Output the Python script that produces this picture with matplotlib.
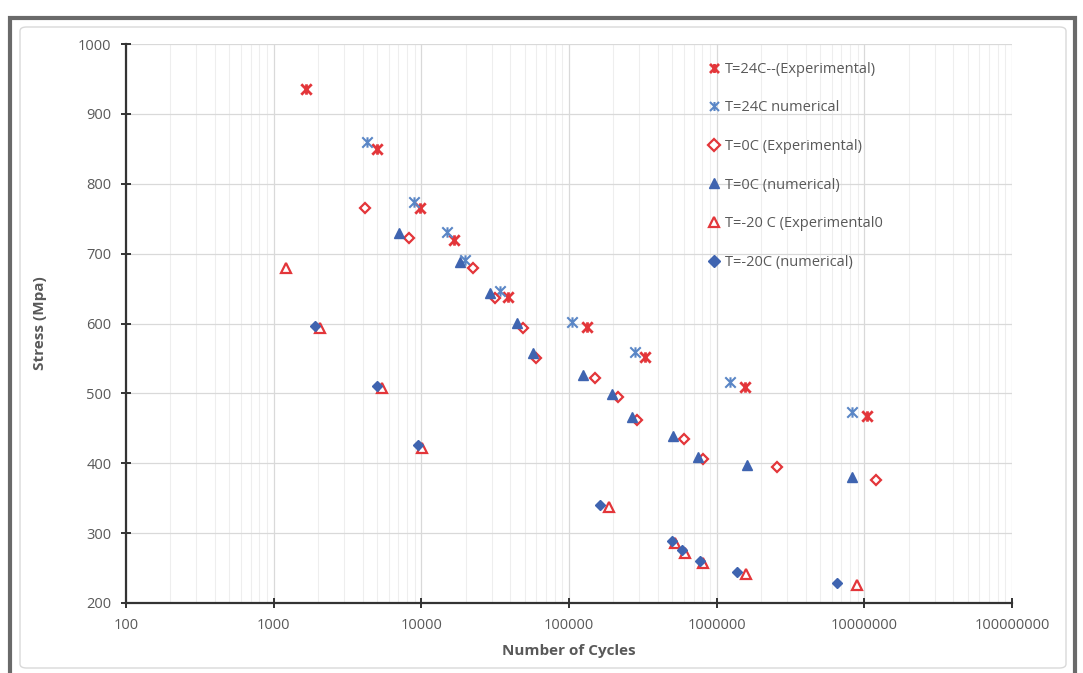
"""
S-N curves at three temperatures, experimental vs numerical
"""

import numpy as np
import matplotlib
matplotlib.use("Agg")
import matplotlib.pyplot as plt
from matplotlib.path import Path
from matplotlib.patches import Rectangle, FancyBboxPatch
from matplotlib.ticker import FixedLocator, FuncFormatter, LogLocator, NullFormatter

plt.rcParams['font.family'] = ['Open Sans', 'DejaVu Sans']

# T = 24C
cycles_24_exp = [1650, 5000, 9800, 16600, 38500, 132000, 327000, 1550000, 10400000]
stress_24_exp = [935, 850, 765, 720, 638, 595, 552, 509, 467]
cycles_24_num = [4290, 8900, 14900, 19700, 34000, 104000, 279000, 1230000, 8200000]
stress_24_num = [860, 774, 731, 691, 647, 602, 559, 516, 473]

# T = 0C
cycles_0_exp = [4150, 8250, 22300, 31400, 48700, 59700, 150000, 214000, 288000,
                600000, 807000, 2560000, 12000000]
stress_0_exp = [765, 722, 680, 637, 594, 551, 522, 495, 462, 435, 406, 395, 376]
cycles_0_num = [7050, 18200, 29100, 44400, 57000, 124000, 195000, 267000,
                505000, 746000, 1600000, 8200000]
stress_0_num = [730, 688, 644, 601, 558, 526, 499, 466, 439, 409, 398, 380]

# T = -20C
cycles_m20_exp = [1210, 2060, 5400, 10100, 186000, 521000, 609000, 807000, 1580000, 8900000]
stress_m20_exp = [680, 593, 508, 422, 338, 286, 272, 257, 242, 226]
cycles_m20_num = [1900, 5000, 9500, 162000, 498000, 581000, 770000, 1370000, 6500000]
stress_m20_num = [596, 511, 426, 340, 289, 276, 260, 245, 229]

red = '#e3363a'
blue = '#3f64b0'
blue_x = '#5a86c6'
grey_text = '#595959'

# excel style "star": an x with a vertical bar through it
star = Path([(-1, -1), (1, 1), (-1, 1), (1, -1), (0, -1), (0, 1)],
            [Path.MOVETO, Path.LINETO, Path.MOVETO, Path.LINETO, Path.MOVETO, Path.LINETO])

fig = plt.figure(figsize=(10.83, 6.73), dpi=100)
ax = fig.add_axes([126 / 1083, 1 - 603 / 673, (1012 - 126) / 1083, (603 - 44) / 673])

ax.plot(cycles_24_exp, stress_24_exp, ls='none', marker=star, ms=7.5, mfc='none',
        mec=red, mew=2.0, label='T=24C--(Experimental)', zorder=3)
ax.plot(cycles_24_num, stress_24_num, ls='none', marker=star, ms=7.5, mfc='none',
        mec=blue_x, mew=1.5, label='T=24C numerical', zorder=3)
ax.plot(cycles_0_exp, stress_0_exp, ls='none', marker='D', ms=5.5, mfc='white',
        mec=red, mew=1.6, label='T=0C (Experimental)', zorder=3)
ax.plot(cycles_0_num, stress_0_num, ls='none', marker='^', ms=7.5, mfc=blue,
        mec=blue, mew=1, label='T=0C (numerical)', zorder=3)
ax.plot(cycles_m20_exp, stress_m20_exp, ls='none', marker='^', ms=7.5, mfc='white',
        mec=red, mew=1.6, label='T=-20 C (Experimental0', zorder=3)
ax.plot(cycles_m20_num, stress_m20_num, ls='none', marker='D', ms=5.5, mfc=blue,
        mec=blue, mew=1, label='T=-20C (numerical)', zorder=3)

ax.set_xscale('log')
ax.set_xlim(100, 1e8)
ax.set_ylim(200, 1000)

ax.xaxis.set_major_locator(FixedLocator([10 ** k for k in range(2, 9)]))
ax.xaxis.set_major_formatter(FuncFormatter(lambda v, p: '%d' % round(v)))
ax.xaxis.set_minor_locator(LogLocator(base=10, subs=np.arange(2, 10)))
ax.xaxis.set_minor_formatter(NullFormatter())
ax.yaxis.set_major_locator(FixedLocator(np.arange(200, 1001, 100)))

ax.grid(which='major', axis='y', color='#d9d9d9', lw=0.9)
ax.grid(which='major', axis='x', color='#d9d9d9', lw=0.9)
ax.grid(which='minor', axis='x', color='#eeeeee', lw=0.8)
ax.set_axisbelow(True)

for s in ['top', 'right']:
    ax.spines[s].set_visible(False)
for s in ['left', 'bottom']:
    ax.spines[s].set_color('#333333')
    ax.spines[s].set_linewidth(1.6)

ax.tick_params(which='major', direction='inout', length=7, width=1.4, color='#333333',
               labelcolor=grey_text, labelsize=10.5, pad=7)
ax.tick_params(which='minor', length=0)

ax.set_ylabel('Stress (Mpa)', fontsize=11, fontweight='bold', color=grey_text, labelpad=22)
ax.set_xlabel('Number of Cycles', fontsize=11, fontweight='bold', color=grey_text, labelpad=8)

leg = ax.legend(loc='upper left', bbox_to_anchor=(0.64, 0.997), frameon=False,
                fontsize=10.5, labelcolor=grey_text, handlelength=0.7, handletextpad=0.4,
                labelspacing=1.62, borderpad=0.6)
for h in leg.legend_handles:
    h.set_markersize(6.5)

# picture frame and chart area border
fig.patches.append(FancyBboxPatch((20 / 1083, 5 / 673), 1046 / 1083, 641 / 673,
                                  boxstyle='round,pad=0,rounding_size=0.006',
                                  transform=fig.transFigure, fill=False,
                                  ec='#d9d9d9', lw=1))
fig.patches.append(Rectangle((10 / 1083, -0.05), 1065 / 1083, 1.05 - 18 / 673,
                             transform=fig.transFigure, fill=False,
                             ec='#6a6a6a', lw=3))

fig.savefig('out.png', dpi=100)
